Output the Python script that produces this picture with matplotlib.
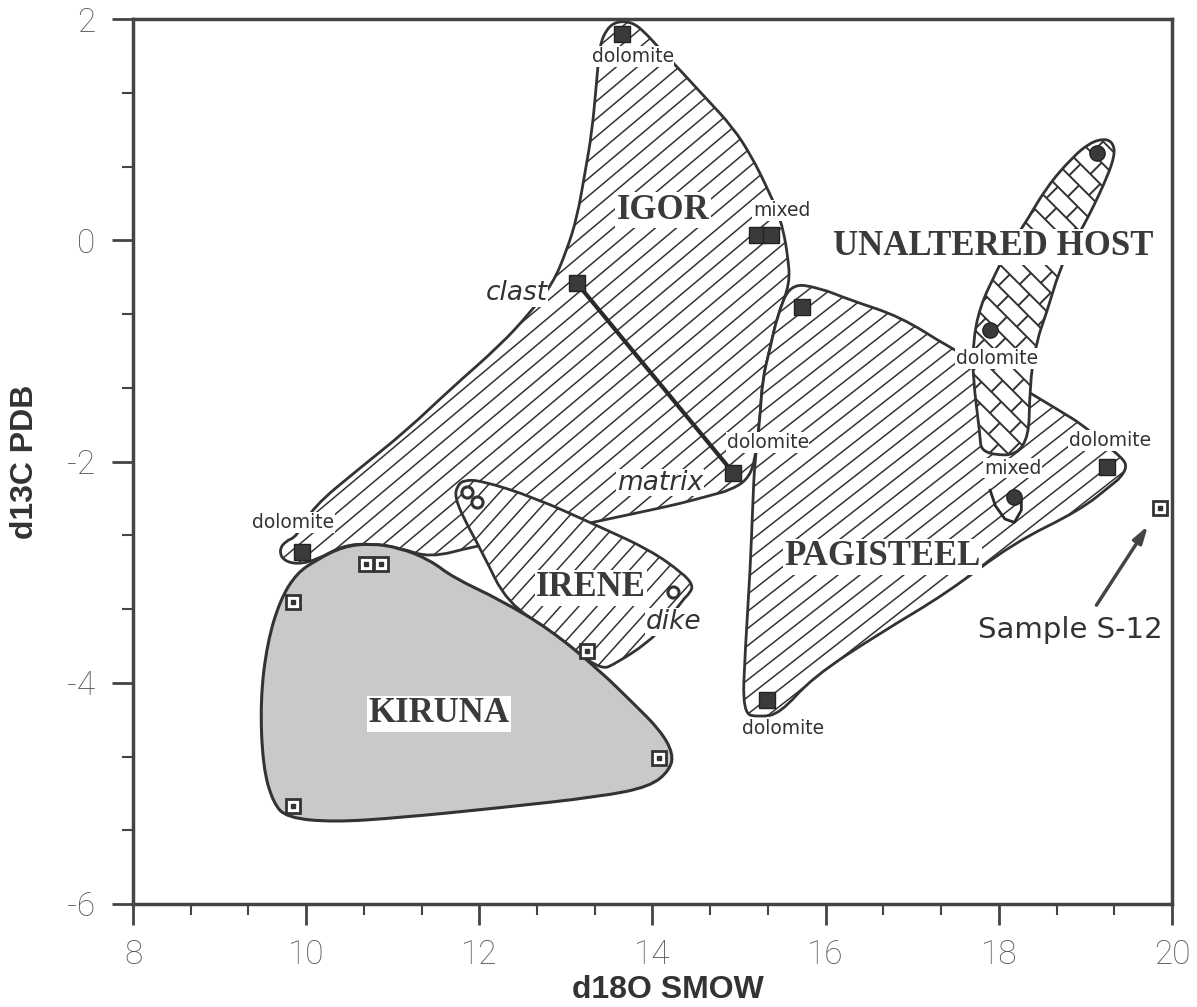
import numpy as np
import matplotlib.pyplot as plt
from matplotlib.path import Path
from matplotlib.patches import PathPatch
from matplotlib.collections import LineCollection
from matplotlib.ticker import MultipleLocator

plt.rcParams['axes.unicode_minus'] = False

# field outlines (d18O SMOW, d13C PDB)
kiruna_x = [9.89, 10.12, 10.42, 10.74, 11.08, 11.43, 11.70, 12.24, 12.82, 13.39, 13.77, 14.09,
            14.24, 14.20, 13.97, 13.39, 12.24, 11.08, 10.31, 9.78, 9.62, 9.50, 9.47, 9.55, 9.70]
kiruna_y = [-3.01, -2.89, -2.77, -2.74, -2.78, -2.89, -3.05, -3.25, -3.52, -3.89, -4.18, -4.43,
            -4.64, -4.79, -4.94, -5.03, -5.13, -5.22, -5.26, -5.22, -5.09, -4.76, -4.16, -3.64, -3.25]

igor_x = [13.36, 13.39, 13.47, 13.59, 13.77, 13.91, 14.05, 14.28, 14.61, 14.93, 15.15, 15.32,
          15.44, 15.51, 15.56, 15.59, 15.44, 15.36, 15.27, 15.24, 15.18, 15.09, 14.89, 14.70,
          14.32, 13.97, 13.31, 12.58, 11.93, 11.43, 11.08, 10.74, 10.42, 10.12, 9.89, 9.73,
          9.69, 9.76, 9.89, 10.08, 10.62, 11.16, 11.66, 12.24, 12.58, 12.85, 13.01, 13.13,
          13.22, 13.30]
igor_y = [1.48, 1.76, 1.91, 1.98, 1.97, 1.88, 1.76, 1.57, 1.29, 1.02, 0.75, 0.48,
          0.27, 0.09, -0.13, -0.39, -0.69, -0.97, -1.26, -1.63, -2.01, -2.17, -2.26, -2.30,
          -2.38, -2.44, -2.55, -2.67, -2.77, -2.87, -2.78, -2.74, -2.76, -2.89, -2.93, -2.89,
          -2.80, -2.72, -2.68, -2.41, -2.06, -1.72, -1.35, -0.95, -0.66, -0.39, -0.09, 0.21,
          0.61, 0.97]

pagisteel_x = [15.59, 15.93, 16.28, 16.86, 17.43, 17.72, 18.36, 18.70, 18.97, 19.17, 19.43,
               19.48, 19.40, 19.32, 18.94, 18.16, 17.40, 16.63, 15.85, 15.47, 15.24, 15.04,
               15.07, 15.13, 15.16, 15.18, 15.24, 15.27, 15.36, 15.44]
pagisteel_y = [-0.39, -0.43, -0.54, -0.69, -0.97, -1.08, -1.38, -1.54, -1.67, -1.81, -1.97,
               -2.05, -2.15, -2.20, -2.44, -2.74, -3.19, -3.55, -3.95, -4.28, -4.31, -4.28,
               -3.71, -2.96, -2.35, -2.01, -1.63, -1.26, -0.97, -0.69]

irene_x = [11.74, 11.81, 12.01, 12.62, 13.39, 13.97, 14.35, 14.47, 14.43, 14.35, 14.14, 13.94,
           13.59, 13.39, 12.85, 12.32, 12.04, 11.81, 11.72]
irene_y = [-2.23, -2.17, -2.17, -2.32, -2.59, -2.80, -3.01, -3.12, -3.19, -3.25, -3.48, -3.64,
           -3.82, -3.89, -3.54, -3.28, -2.83, -2.50, -2.32]

host_x = [17.80, 17.78, 17.70, 17.70, 17.78, 17.98, 18.13, 18.28, 18.55, 18.85, 19.05, 19.22,
          19.32, 19.34, 19.25, 19.09, 18.97, 18.82, 18.70, 18.55, 18.44, 18.36, 18.34]
host_y = [-1.94, -1.74, -1.24, -0.93, -0.60, -0.27, -0.04, 0.12, 0.48, 0.75, 0.88, 0.92,
          0.88, 0.77, 0.57, 0.30, 0.12, -0.09, -0.27, -0.66, -0.90, -1.26, -1.94]

# samples
open_sq_x = [9.85, 10.69, 10.86, 9.85, 14.07, 13.24, 19.86]
open_sq_y = [-3.27, -2.93, -2.93, -5.11, -4.68, -3.71, -2.42]
filled_sq_x = [13.65, 13.13, 15.21, 15.37, 15.73, 14.93, 9.95, 19.25, 15.32]
filled_sq_y = [1.86, -0.39, 0.05, 0.05, -0.60, -2.10, -2.82, -2.05, -4.16]
blob_x = [19.13, 17.90, 18.18]
blob_y = [0.79, -0.81, -2.32]
ring_x = [11.86, 11.97, 14.24]
ring_y = [-2.28, -2.37, -3.18]
tie_x = [13.13, 14.93]
tie_y = [-0.39, -2.10]
mixed_loop_x = [17.90, 17.96, 18.07, 18.18, 18.26, 18.26]
mixed_loop_y = [-2.26, -2.40, -2.52, -2.55, -2.44, -2.35]

field_names = ['KIRUNA', 'IRENE', 'IGOR', 'PAGISTEEL', 'UNALTERED HOST']
field_x = [11.53, 13.29, 14.12, 16.66, 17.93]
field_y = [-4.28, -3.14, 0.27, -2.86, -0.06]

note_text = ['dolomite', 'mixed', 'dolomite', 'dolomite', 'dolomite', 'dolomite', 'mixed', 'dolomite']
note_x = [13.77, 15.49, 9.85, 15.33, 17.98, 19.28, 18.16, 15.51]
note_y = [1.66, 0.27, -2.55, -1.83, -1.07, -1.81, -2.06, -4.41]
italic_text = ['clast', 'matrix', 'dike']
italic_x = [12.43, 14.09, 14.24]
italic_y = [-0.48, -2.19, -3.45]


def smooth_path(xs, ys):
    pts = np.column_stack([xs, ys])
    mids = (pts + np.roll(pts, -1, axis=0)) / 2
    verts = [mids[-1]]
    codes = [Path.MOVETO]
    for p, m in zip(pts, mids):
        verts += [p, m]
        codes += [Path.CURVE3, Path.CURVE3]
    verts.append(mids[-1])
    codes.append(Path.CLOSEPOLY)
    return Path(verts, codes)


def hatch_lines(ax, patch, angle=40.0, s=13.5, brick=None, lw=1.1):
    # parallel lines in pixels (optionally with brick joints), clipped to the field
    v = ax.transData.transform(patch.get_path().vertices)
    a = np.radians(angle)
    d = np.array([np.cos(a), np.sin(a)])
    n = np.array([-np.sin(a), np.cos(a)])
    pn, pd = v @ n, v @ d
    t0, t1 = pd.min() - 40, pd.max() + 40
    segs = []
    for k in range(int(np.floor(pn.min() / s)) - 1, int(np.ceil(pn.max() / s)) + 1):
        base = k * s * n
        segs.append([base + t0 * d, base + t1 * d])
        if brick:
            for j in range(int(np.floor(t0 / brick)) - 1, int(np.ceil(t1 / brick)) + 1):
                t = (j + 0.5 * (k % 2)) * brick
                segs.append([base + t * d, base + s * n + t * d])
    segs = np.array(segs)
    segs = ax.transData.inverted().transform(segs.reshape(-1, 2)).reshape(-1, 2, 2)
    lc = LineCollection(segs, colors='#333333', linewidths=lw, zorder=patch.get_zorder())
    ax.add_collection(lc)
    lc.set_clip_path(patch)


fig = plt.figure(figsize=(11.97, 10.07), dpi=100)
ax = fig.add_axes([133 / 1197, 1 - 904 / 1007, 1039 / 1197, 885 / 1007])
ax.set_xlim(8, 20)
ax.set_ylim(-6, 2)

edge = '#333333'
fields = [(igor_x, igor_y, 40.0), (pagisteel_x, pagisteel_y, 38.0), (irene_x, irene_y, 48.0)]
for i, (fx, fy, ang) in enumerate(fields):
    p = PathPatch(smooth_path(fx, fy), facecolor='white', edgecolor=edge, linewidth=2,
                  zorder=1 + 0.1 * i)
    ax.add_patch(p)
    hatch_lines(ax, p, angle=ang)
    if i == 1:
        host = PathPatch(smooth_path(host_x, host_y), facecolor='white', edgecolor=edge,
                         linewidth=2, zorder=1.15)
        ax.add_patch(host)
        hatch_lines(ax, host, angle=-45.0, s=16.0, brick=28.0, lw=1.4)
ax.add_patch(PathPatch(smooth_path(kiruna_x, kiruna_y), facecolor='#c9c9c9', edgecolor=edge,
                       linewidth=2.2, zorder=1.4))

ax.plot(tie_x, tie_y, color='#2a2a2a', lw=3, zorder=3)
ax.plot(mixed_loop_x, mixed_loop_y, color='#2a2a2a', lw=2, zorder=3)

ax.plot(filled_sq_x, filled_sq_y, 's', ms=12, mfc='#3a3a3a', mec='#222222', mew=1, ls='none', zorder=4)
ax.plot(blob_x, blob_y, 'o', ms=11, mfc='#3a3a3a', mec='#222222', ls='none', zorder=4)
ax.plot(ring_x, ring_y, 'o', ms=8, mfc='white', mec='#333333', mew=2.2, ls='none', zorder=4)
ax.plot(open_sq_x, open_sq_y, 's', ms=10, mfc='white', mec='#333333', mew=2, ls='none', zorder=4)
ax.plot(open_sq_x, open_sq_y, 's', ms=2.5, color='#333333', ls='none', zorder=4.1)

for name, x, y in zip(field_names, field_x, field_y):
    ax.text(x, y, name, ha='center', va='center', fontsize=25, fontweight='bold',
            family='Liberation Serif', color='#3a3a3a', zorder=5,
            bbox=dict(facecolor='white', edgecolor='none', pad=1))

for t, x, y in zip(note_text, note_x, note_y):
    ax.text(x, y, t, ha='center', va='center', fontsize=13.5, family='DejaVu Sans',
            color='#333333', zorder=5, bbox=dict(facecolor='white', edgecolor='none', pad=0.5))

for t, x, y in zip(italic_text, italic_x, italic_y):
    ax.text(x, y, t, ha='center', va='center', fontsize=19, family='DejaVu Sans', style='italic',
            color='#333333', zorder=5, bbox=dict(facecolor='white', edgecolor='none', pad=0.5))

ax.annotate('', xy=(19.74, -2.56), xytext=(19.11, -3.32),
            arrowprops=dict(arrowstyle='-|>,head_length=1.0,head_width=0.3', color='#444444', lw=2.5))
ax.text(18.82, -3.52, 'Sample S-12', ha='center', va='center', fontsize=21,
        family='DejaVu Sans', color='#333333', zorder=5)

ax.xaxis.set_major_locator(MultipleLocator(2))
ax.xaxis.set_minor_locator(MultipleLocator(2 / 3))
ax.yaxis.set_major_locator(MultipleLocator(2))
ax.yaxis.set_minor_locator(MultipleLocator(2 / 3))
ax.tick_params(which='major', direction='out', length=15, width=2, color='#444444',
               labelsize=24, labelcolor='#555555')
ax.tick_params(axis='x', which='major', pad=10)
ax.tick_params(axis='y', which='major', pad=12)
ax.tick_params(which='minor', direction='out', length=8, width=1.5, color='#444444')
plt.setp(ax.get_xticklabels() + ax.get_yticklabels(), family='Roboto', fontweight='light')
for sp in ax.spines.values():
    sp.set_linewidth(2.5)
    sp.set_color('#444444')

fig.text(668 / 1197, 1 - 990 / 1007, 'd18O SMOW', ha='center', va='center', fontsize=23,
         fontweight='bold', family='Liberation Sans', color='#333333')
fig.text(25 / 1197, 1 - 462 / 1007, 'd13C PDB', ha='center', va='center', rotation=90,
         fontsize=23, fontweight='bold', family='Liberation Sans', color='#333333')

fig.savefig('out.png', dpi=100)
